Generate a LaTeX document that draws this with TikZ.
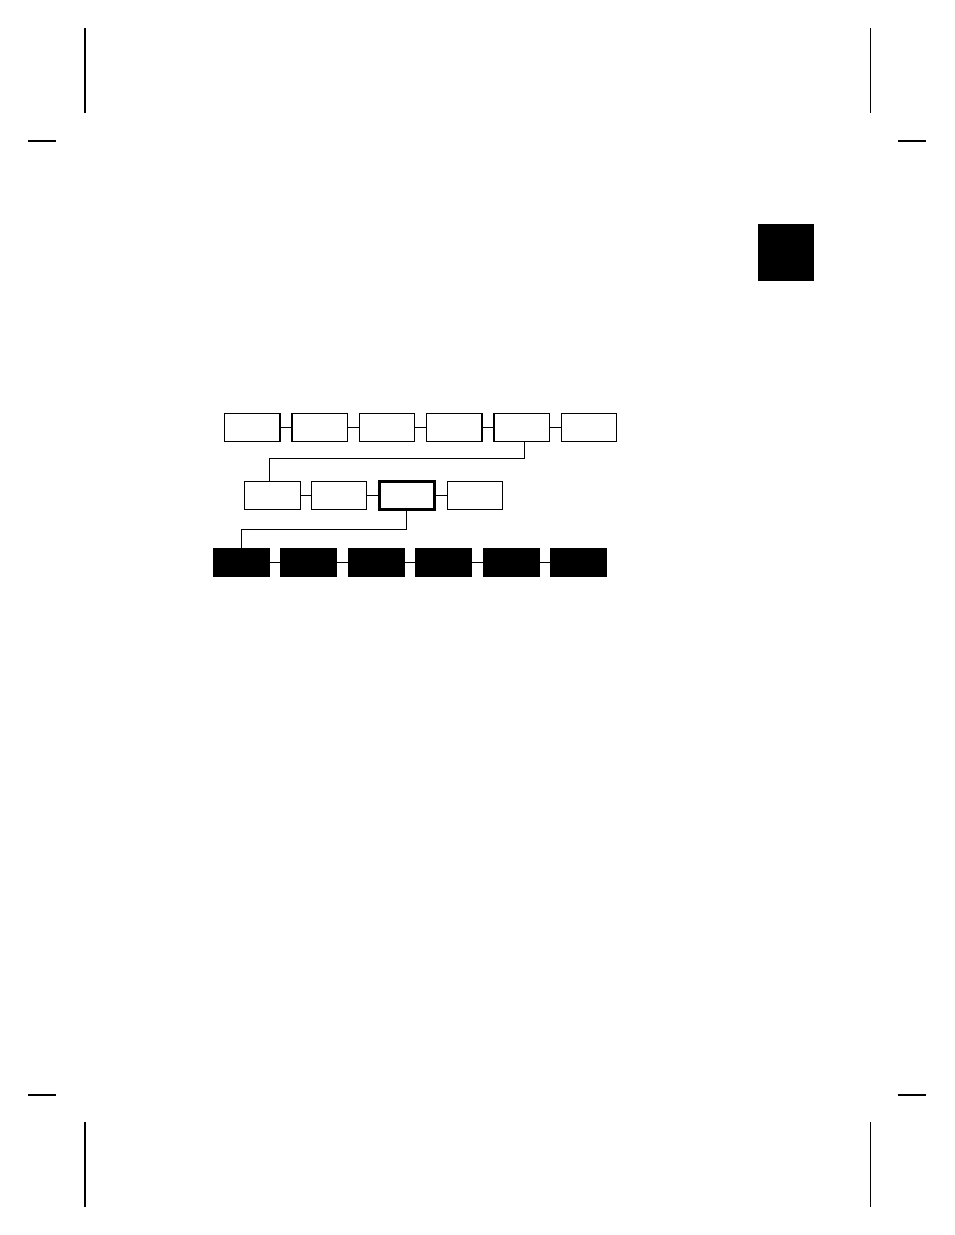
\documentclass[tikz,border=0pt]{standalone}
\usetikzlibrary{positioning}

\begin{document}
\begin{tikzpicture}[x=0.75pt,y=-0.75pt,node distance=8pt,
  box/.style={draw,minimum width=41.5pt,minimum height=21pt,inner sep=0pt},
  toprow/.style={box,line width=1pt},
  midrow/.style={box,line width=0.6pt},
  pick/.style={box,line width=2pt},
  lowrow/.style={box,fill=black,line width=0.6pt,minimum width=42pt},
  link/.style={line width=0.55pt}]
\useasboundingbox (0,0) rectangle (954,1235);

\draw[line width=1.2pt] (85,28) -- (85,112.7);
\draw[line width=1.5pt] (28,140.7) -- (56,140.7);
\draw[line width=1.2pt] (870.3,28) -- (870.3,112.7);
\draw[line width=1.5pt] (898,140.7) -- (926,140.7);
\draw[line width=1.5pt] (28,1094.7) -- (56,1094.7);
\draw[line width=1.2pt] (85,1122) -- (85,1206.7);
\draw[line width=1.5pt] (898,1094.7) -- (926,1094.7);
\draw[line width=1.2pt] (870.3,1122) -- (870.3,1206.7);
\fill (758,224) rectangle (814,281);

\node[toprow] (t1) at (252.3,427.8) {};
\node[toprow,right=of t1] (t2) {};
\node[toprow,right=of t2] (t3) {};
\node[toprow,right=of t3] (t4) {};
\node[toprow,right=of t4] (t5) {};
\node[toprow,right=of t5] (t6) {};

\node[midrow] (m1) at (272.3,495.2) {};
\node[midrow,right=of m1] (m2) {};
\node[pick,right=of m2] (m3) {};
\node[midrow,right=of m3] (m4) {};

\node[lowrow] (b1) at (241.3,562.6) {};
\node[lowrow,right=8pt of b1] (b2) {};
\node[lowrow,right=8pt of b2] (b3) {};
\node[lowrow,right=8pt of b3] (b4) {};
\node[lowrow,right=8pt of b4] (b5) {};
\node[lowrow,right=8pt of b5] (b6) {};

\draw[link] (t1) -- (t2);
\draw[link] (t2) -- (t3);
\draw[link] (t3) -- (t4);
\draw[link] (t4) -- (t5);
\draw[link] (t5) -- (t6);
\draw[link] (m1) -- (m2);
\draw[link] (m2) -- (m3);
\draw[link] (m3) -- (m4);
\draw[link] (b1) -- (b2);
\draw[link] (b2) -- (b3);
\draw[link] (b3) -- (b4);
\draw[link] (b4) -- (b5);
\draw[link] (b5) -- (b6);

\draw[link] ([xshift=1.9pt]t5.south) -- ++(0,16) -| ([xshift=-2.25pt]m1.north);
\draw[link] (m3.south) -- ++(0,19) -| (b1.north);
\end{tikzpicture}
\end{document}
